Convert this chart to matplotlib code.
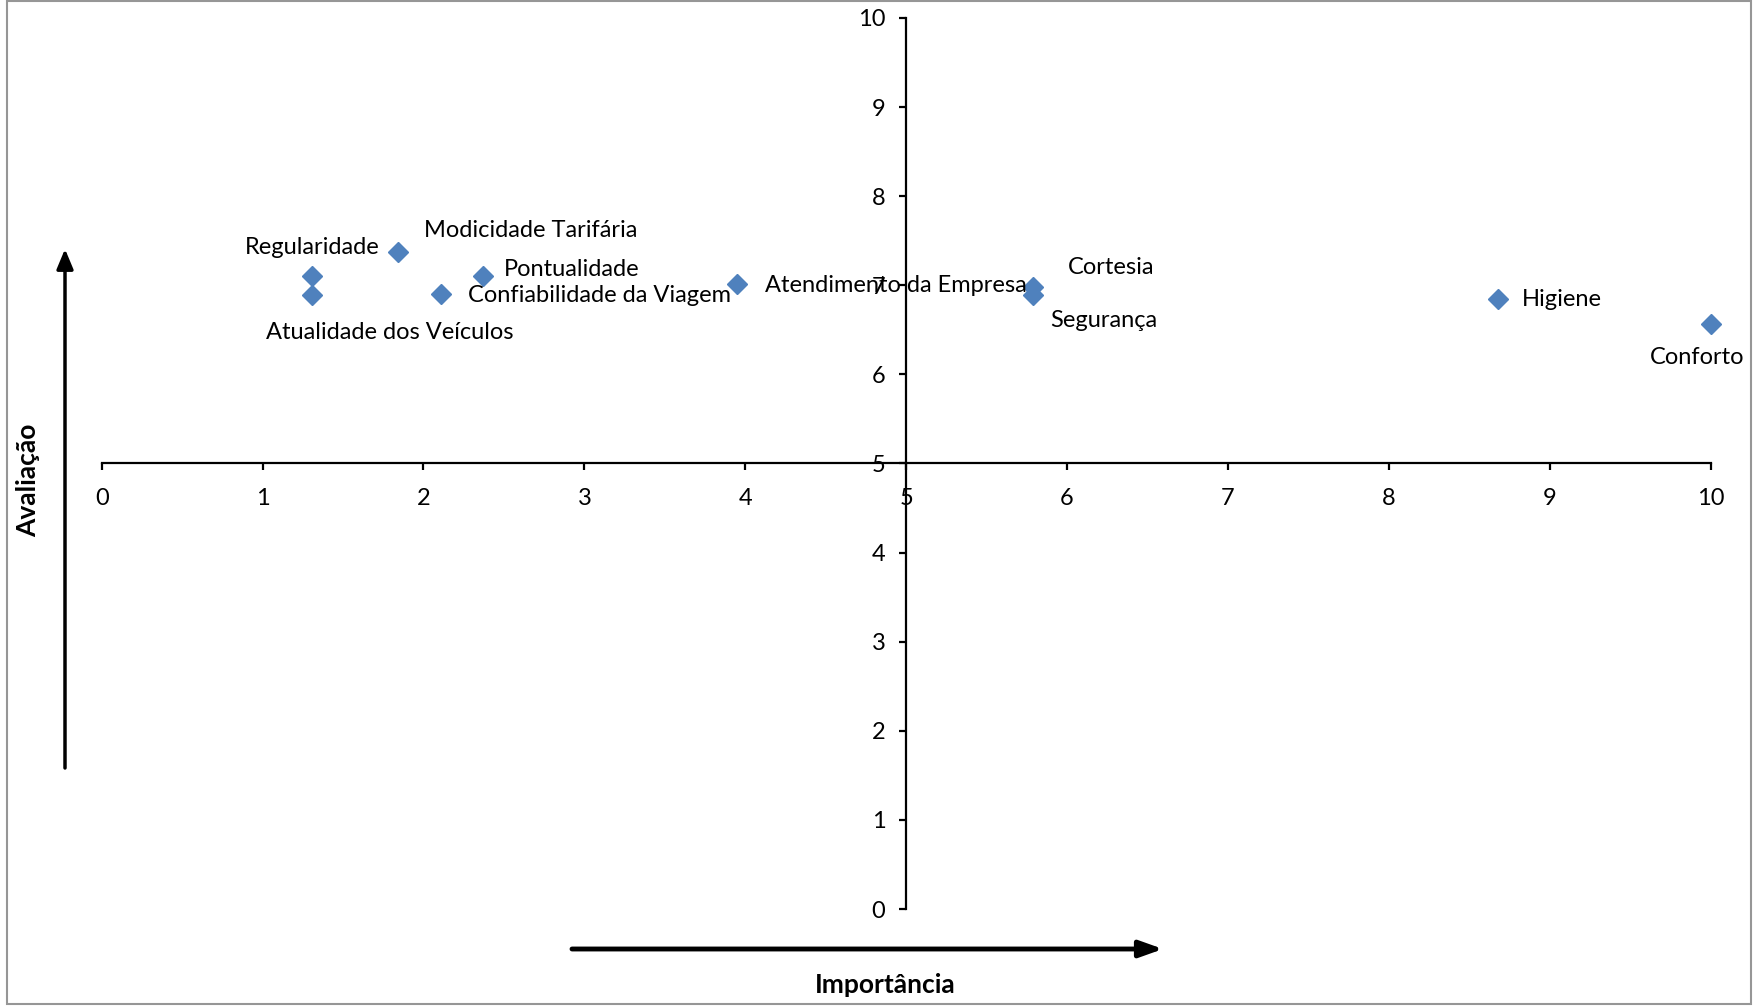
import matplotlib
matplotlib.use("Agg")
import matplotlib.pyplot as plt
from matplotlib.patches import Rectangle, FancyArrowPatch

plt.rcParams['font.family'] = ['Lato', 'DejaVu Sans']

# atributos do servico: importancia (x) e avaliacao (y)
atributos = ['Regularidade', 'Atualidade dos Veículos', 'Modicidade Tarifária',
             'Pontualidade', 'Confiabilidade da Viagem', 'Atendimento da Empresa',
             'Cortesia', 'Segurança', 'Higiene', 'Conforto']
importancia = [1.31, 1.31, 1.84, 2.37, 2.11, 3.95, 5.79, 5.79, 8.68, 10.0]
avaliacao = [7.10, 6.89, 7.37, 7.10, 6.90, 7.01, 6.98, 6.89, 6.84, 6.56]

# deslocamento dos rotulos em pontos (dx, dy)
offsets = [(0, 21), (56, -27), (96, 16), (64, 5), (114, -1),
           (114, -1), (56, 14), (51, -18), (46, 0), (-10, -24)]

W, H = 1753, 1008
fig = plt.figure(figsize=(W / 100, H / 100), dpi=100)
ax = fig.add_axes([101.7 / W, 1 - 909 / H, 1608.9 / W, 891.1 / H])

ax.plot(importancia, avaliacao, linestyle='none', marker='D', markersize=10,
        color='#4F81BD', clip_on=False, zorder=3)

for nome, x, y, off in zip(atributos, importancia, avaliacao, offsets):
    ax.annotate(nome, (x, y), xytext=off, textcoords='offset points',
                ha='center', va='center', fontsize=17, color='black')

ax.set_xlim(0, 10)
ax.set_ylim(0, 10)
ax.set_xticks(range(0, 11))
ax.set_yticks(range(0, 11))
ax.spines['left'].set_position(('data', 5))
ax.spines['bottom'].set_position(('data', 5))
ax.spines['top'].set_visible(False)
ax.spines['right'].set_visible(False)
for s in ['left', 'bottom']:
    ax.spines[s].set_linewidth(1.6)
ax.tick_params(axis='both', direction='out', length=5, width=1.6, labelsize=17)
ax.tick_params(axis='x', pad=13)
ax.tick_params(axis='y', pad=10)
ax.patch.set_visible(False)

# setas dos eixos
fig.add_artist(FancyArrowPatch(
    (65 / W, 1 - 768 / H), (65 / W, 1 - 249 / H), transform=fig.transFigure,
    arrowstyle='-|>,head_length=12,head_width=5', lw=2.5, color='black',
    mutation_scale=1, shrinkA=0, shrinkB=0))
fig.add_artist(FancyArrowPatch(
    (572 / W, 1 - 949 / H), (1163 / W, 1 - 949 / H), transform=fig.transFigure,
    arrowstyle='-|>,head_length=14,head_width=5', lw=3.5, color='black',
    mutation_scale=1, shrinkA=0, shrinkB=0))

fig.text(28 / W, 1 - 480 / H, 'Avaliação', rotation=90, ha='center', va='center',
         fontsize=19, fontweight='bold')
fig.text(885 / W, 1 - 985 / H, 'Importância', ha='center', va='center',
         fontsize=19, fontweight='bold')

fig.add_artist(Rectangle((7 / W, 4 / H), 1744 / W, 1003 / H, transform=fig.transFigure,
                         fill=False, edgecolor='#969696', lw=1.5))

fig.savefig('out.png', dpi=100)
